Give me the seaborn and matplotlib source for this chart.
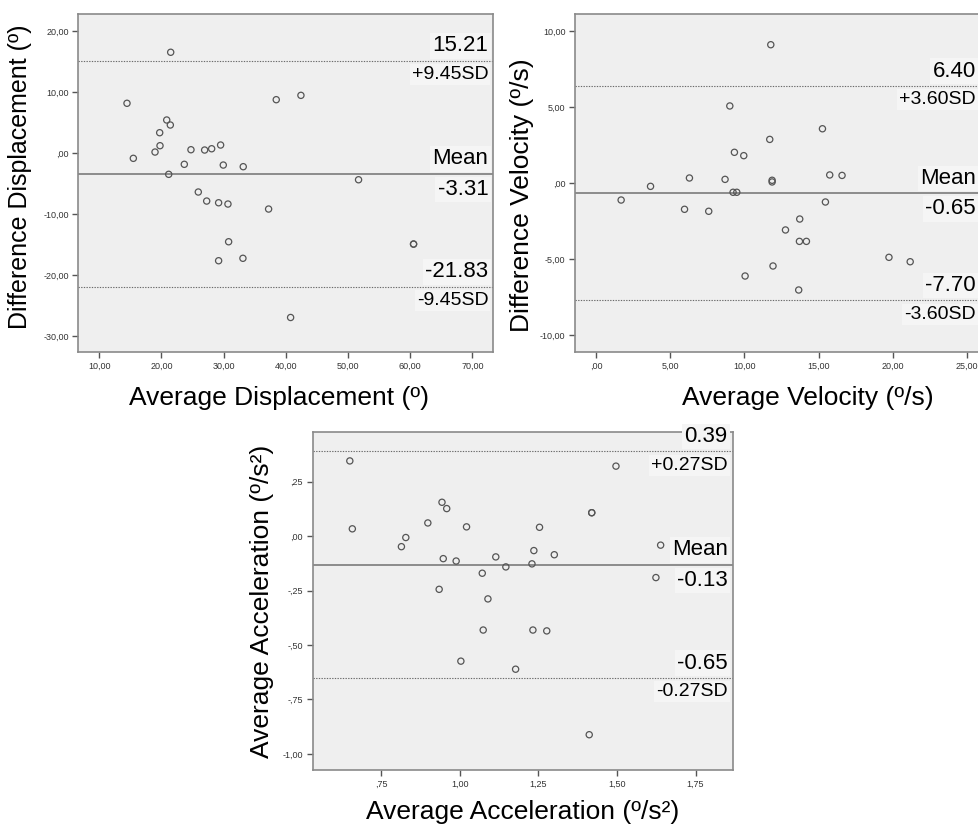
import matplotlib
matplotlib.use("Agg")
import matplotlib.pyplot as plt
import seaborn as sns
from matplotlib.ticker import FuncFormatter, MultipleLocator

# ---- data ----
disp_avg = [21.48, 14.45, 15.47, 18.96, 19.76, 19.71, 20.84, 21.42, 21.16, 23.67,
            24.74, 25.92, 26.94, 27.27, 28.07, 29.19, 29.51, 29.94, 30.69, 30.80,
            29.19, 33.10, 33.15, 37.23, 38.46, 42.43, 40.77, 51.70, 60.55, 60.55]
disp_diff = [16.56, 8.20, -0.82, 0.21, 1.25, 3.38, 5.46, 4.64, -3.44, -1.80,
             0.59, -6.34, 0.54, -7.82, 0.75, -8.10, 1.36, -1.92, -8.31, -14.49,
             -17.60, -17.20, -2.19, -9.13, 8.79, 9.50, -26.90, -4.33, -14.87, -14.87]

vel_avg = [1.70, 3.68, 5.97, 6.30, 7.60, 8.70, 9.02, 9.24, 9.49, 9.33,
           9.96, 10.05, 11.71, 11.78, 11.87, 11.87, 11.93, 12.77, 13.73, 13.71,
           14.18, 13.66, 15.26, 15.46, 15.75, 16.58, 19.74, 21.17, 22.52]
vel_diff = [-1.12, -0.22, -1.73, 0.33, -1.86, 0.24, 5.07, -0.61, -0.61, 2.02,
            1.80, -6.12, 2.87, 9.10, 0.18, 0.07, -5.46, -3.09, -2.37, -3.84,
            -3.84, -7.04, 3.57, -1.25, 0.53, 0.50, -4.89, -5.18, -1.84]

acc_avg = [0.651, 0.659, 0.815, 0.829, 0.899, 0.944, 0.959, 0.948, 0.935, 0.989,
           1.022, 1.004, 1.072, 1.075, 1.090, 1.115, 1.147, 1.178, 1.230, 1.236,
           1.233, 1.254, 1.277, 1.301, 1.420, 1.420, 1.412, 1.497, 1.624, 1.639]
acc_diff = [0.346, 0.034, -0.048, -0.006, 0.061, 0.156, 0.127, -0.103, -0.244, -0.114,
            0.043, -0.574, -0.170, -0.431, -0.288, -0.095, -0.141, -0.611, -0.127, -0.066,
            -0.431, 0.041, -0.435, -0.085, 0.108, 0.108, -0.912, 0.322, -0.190, -0.041]

disp_lines = [15.21, -3.31, -21.83]
vel_lines = [6.40, -0.65, -7.70]
acc_lines = [0.39, -0.13, -0.65]

disp_text = [("15.21", "+9.45SD"), ("Mean", "-3.31"), ("-21.83", "-9.45SD")]
vel_text = [("6.40", "+3.60SD"), ("Mean", "-0.65"), ("-7.70", "-3.60SD")]
acc_text = [("0.39", "+0.27SD"), ("Mean", "-0.13"), ("-0.65", "-0.27SD")]

sns.set_style("white")
plt.rcParams['font.family'] = ['Liberation Sans', 'DejaVu Sans']
plt.rcParams['text.color'] = 'black'
plt.rcParams['axes.labelcolor'] = 'black'

PANEL_BG = '#efefef'
SPINE = '#8a8a8a'
PT_EDGE = '#555555'


def spss_fmt(v, pos):
    s = f"{v:.2f}".replace('.', ',')
    if s.startswith('0,'):
        s = s[1:]
    elif s.startswith('-0,'):
        s = '-' + s[2:]
    if s == '-,00':
        s = ',00'
    return s


def panel(ax, x, y, lines, texts, xlim, ylim, xstep, ystep,
          xlabel, ylabel, xlab_pos, ylab_pos, txt_x=0.988, xl_size=19, yl_size=19):
    ax.set_facecolor(PANEL_BG)
    sns.scatterplot(x=x, y=y, ax=ax, marker='o', s=20, facecolors='none',
                    edgecolors=PT_EDGE, linewidth=0.9, zorder=3)

    upper, mean, lower = lines
    ax.axhline(mean, color='#8c8c8c', lw=1.4, zorder=2)
    for v in (upper, lower):
        ax.axhline(v, color='#6a6a6a', lw=0.8, ls=(0, (1.2, 1.2)), zorder=2)

    # value / SD labels at the right end of each line
    box = dict(boxstyle='square,pad=0.1', facecolor='#f5f5f5', edgecolor='none')
    for v, (above, below) in zip(lines, texts):
        big_below = 'SD' not in below
        ax.annotate(above, xy=(txt_x, v), xycoords=('axes fraction', 'data'),
                    xytext=(0, 3), textcoords='offset points',
                    ha='right', va='bottom', fontsize=16, bbox=box, zorder=4)
        ax.annotate(below, xy=(txt_x, v), xycoords=('axes fraction', 'data'),
                    xytext=(0, -4), textcoords='offset points',
                    ha='right', va='top', fontsize=16 if big_below else 14,
                    bbox=box, zorder=4)

    ax.set_xlim(*xlim)
    ax.set_ylim(*ylim)
    ax.xaxis.set_major_locator(MultipleLocator(xstep))
    ax.yaxis.set_major_locator(MultipleLocator(ystep))
    ax.xaxis.set_major_formatter(FuncFormatter(spss_fmt))
    ax.yaxis.set_major_formatter(FuncFormatter(spss_fmt))
    ax.tick_params(axis='both', direction='out', length=4, width=1,
                   color='#555555', labelsize=6.5, labelcolor='#333333',
                   pad=3, bottom=True, left=True)
    for sp in ax.spines.values():
        sp.set_color(SPINE)
        sp.set_linewidth(1.2)

    ax.set_xlabel(xlabel, fontsize=xl_size, va='center')
    ax.set_ylabel(ylabel, fontsize=yl_size, va='center')
    ax.xaxis.set_label_coords(*xlab_pos)
    ax.yaxis.set_label_coords(*ylab_pos)


fig = plt.figure(figsize=(9.79, 8.25), dpi=100)
ax1 = fig.add_axes([0.0800, 0.5730, 0.4239, 0.4101])
ax2 = fig.add_axes([0.5876, 0.5737, 0.4237, 0.4093])
ax3 = fig.add_axes([0.3194, 0.0667, 0.4290, 0.4097])

panel(ax1, disp_avg, disp_diff, disp_lines, disp_text,
      (6.62, 73.38), (-32.6, 22.84), 10, 10,
      'Average Displacement (º)', 'Difference Displacement (º)',
      (0.484, -0.135), (-0.14, 0.518), yl_size=18)
panel(ax2, vel_avg, vel_diff, vel_lines, vel_text,
      (-1.39, 26.55), (-11.1, 11.12), 5, 5,
      'Average Velocity (º/s)', 'Difference Velocity (º/s)',
      (0.561, -0.138), (-0.129, 0.464), txt_x=0.966)
panel(ax3, acc_avg, acc_diff, acc_lines, acc_text,
      (0.533, 1.868), (-1.074, 0.479), 0.25, 0.25,
      'Average Acceleration (º/s²)', 'Average Acceleration (º/s²)',
      (0.5, -0.124), (-0.121, 0.5))

fig.savefig('out.png', dpi=100, facecolor='white')
